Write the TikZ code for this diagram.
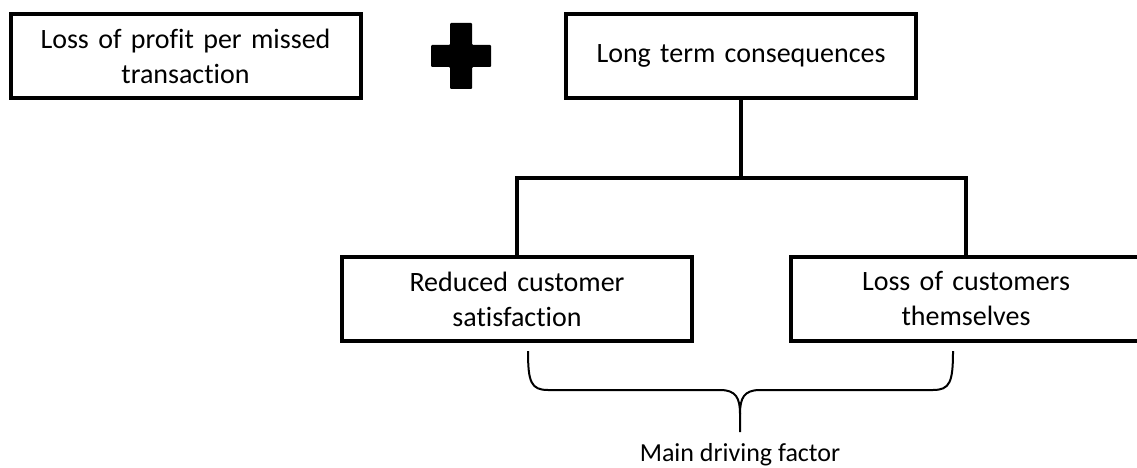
\documentclass[tikz,border=0pt]{standalone}
\usepackage{fontspec}
\setmainfont{Carlito}[Ligatures=NoCommon]
\begin{document}
\begin{tikzpicture}[x=1pt,y=-1pt,
  box/.style={draw=black, line width=4pt, fill=white, minimum width=350pt,
    minimum height=84pt, inner sep=0pt, align=center, text width=340pt,
    font=\fontsize{28}{35}\selectfont},
  link/.style={draw=black, line width=4pt},
  bracepath/.style={draw=black, line width=2pt, line join=round},
  label/.style={font=\fontsize{26}{30}\selectfont, inner sep=0pt}]
  \clip (0,0) rectangle (1137,468);
  \fill[white] (0,0) rectangle (1137,468);

  % top row
  \node[box] (profit) at (185.5,56) {Loss of profit per missed\\transaction};
  \node[box] (longterm) at (741,56) {Long term consequences};

  % plus sign between the two top boxes
  \fill[black, rounded corners=1pt]
    (450,23) -- (472,23) -- (472,45) -- (491,45) -- (491,67) -- (472,67)
    -- (472,89) -- (450,89) -- (450,67) -- (431,67) -- (431,45) -- (450,45) -- cycle;

  % second row
  \node[box] (satisfaction) at (517,299) {Reduced customer\\satisfaction};
  \node[box] (customers) at (966,299) {Loss of customers\\themselves};

  % tree connectors
  \coordinate (split) at (741,178);
  \draw[link] (longterm.south) -- (split);
  \draw[link] (satisfaction.north) |- (split) -| (customers.north);

  % curly brace under the second row
  \draw[bracepath]
    (528,351) .. controls (528,382) and (531,390) .. (548,390)
    -- (720,390) .. controls (736,390) and (740,398) .. (740,414)
    -- (740,432);
  \draw[bracepath]
    (740,414) .. controls (740,398) and (744,390) .. (760,390)
    -- (933,390) .. controls (950,390) and (953,382) .. (953,351);

  \node[label] (factor) at (740,455) {Main driving factor};
\end{tikzpicture}
\end{document}
